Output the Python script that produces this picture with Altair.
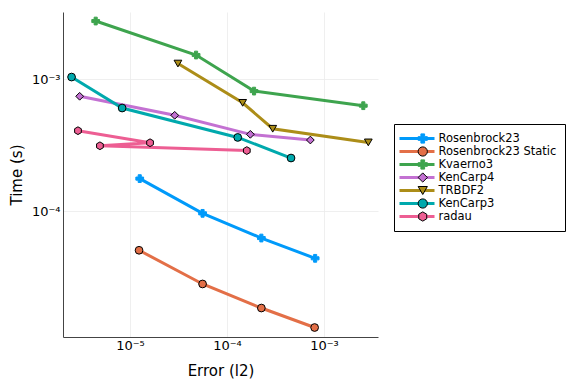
import altair as alt
import pandas as pd

series_names = ["Rosenbrock23", "Rosenbrock23 Static", "Kvaerno3", "KenCarp4", "TRBDF2", "KenCarp3", "radau"]
colors = ["#009AFA", "#E36F47", "#3EA44E", "#C371D2", "#AC8D18", "#00A9AD", "#ED5E93"]
marker_strokes = ["#009AFA", "#000000", "#3EA44E", "#000000", "#000000", "#000000", "#000000"]
hexagon = "M-0.866,-0.5L0,-1L0.866,-0.5L0.866,0.5L0,1L-0.866,0.5Z"
shapes = ["cross", "circle", "cross", "diamond", "triangle-down", "circle", hexagon]

err_rosenbrock23 = [1.26e-5, 5.6e-5, 2.26e-4, 8.1e-4]
time_rosenbrock23 = [1.76e-4, 9.6e-5, 6.24e-5, 4.38e-5]
err_rosenbrock23_static = [1.24e-5, 5.6e-5, 2.26e-4, 8.0e-4]
time_rosenbrock23_static = [5.04e-5, 2.8e-5, 1.84e-5, 1.31e-5]
err_kvaerno3 = [4.43e-6, 4.8e-5, 1.9e-4, 2.54e-3]
time_kvaerno3 = [2.75e-3, 1.52e-3, 8.1e-4, 6.28e-4]
err_kencarp4 = [3.03e-6, 2.89e-5, 1.74e-4, 7.23e-4]
time_kencarp4 = [7.4e-4, 5.31e-4, 3.81e-4, 3.45e-4]
err_trbdf2 = [3.12e-5, 1.45e-4, 2.96e-4, 2.86e-3]
time_trbdf2 = [1.31e-3, 6.6e-4, 4.2e-4, 3.31e-4]
err_kencarp3 = [2.5e-6, 8.3e-6, 1.29e-4, 4.57e-4]
time_kencarp3 = [1.035e-3, 6.03e-4, 3.61e-4, 2.52e-4]
err_radau = [2.91e-6, 1.61e-5, 4.9e-6, 1.6e-4]
time_radau = [4.06e-4, 3.29e-4, 3.12e-4, 2.87e-4]

all_err = [err_rosenbrock23, err_rosenbrock23_static, err_kvaerno3, err_kencarp4,
           err_trbdf2, err_kencarp3, err_radau]
all_time = [time_rosenbrock23, time_rosenbrock23_static, time_kvaerno3, time_kencarp4,
            time_trbdf2, time_kencarp3, time_radau]

line_names = [n + " " for n in series_names]

rows = []
for name, lname, errs, times in zip(series_names, line_names, all_err, all_time):
    for i, (e, t) in enumerate(zip(errs, times)):
        rows.append({"series": name, "line_series": lname, "idx": i, "err": e, "time": t})
df = pd.DataFrame(rows)

FONT = "DejaVu Sans"
label_expr = "datum.value < 5e-5 ? '10⁻⁵' : (datum.value < 5e-4 ? '10⁻⁴' : '10⁻³')"

x = alt.X("err:Q", scale=alt.Scale(type="log", domain=[2.04e-6, 3.6e-3], nice=False),
          axis=alt.Axis(title="Error (l2)", values=[1e-5, 1e-4, 1e-3], labelExpr=label_expr,
                        grid=True, gridColor="#ebebeb", gridWidth=0.8, ticks=False,
                        domainColor="#444444", domainWidth=1, labelFont=FONT, labelFontSize=13,
                        labelColor="#000000", titleFont=FONT, titleFontSize=15,
                        titleFontWeight="normal", titleColor="#000000", labelPadding=2,
                        titlePadding=11))
y = alt.Y("time:Q", scale=alt.Scale(type="log", domain=[1.11e-5, 3.22e-3], nice=False),
          axis=alt.Axis(title="Time (s)", values=[1e-4, 1e-3], labelExpr=label_expr,
                        grid=True, gridColor="#ebebeb", gridWidth=0.8, ticks=False,
                        domainColor="#444444", domainWidth=1, labelFont=FONT, labelFontSize=13,
                        labelColor="#000000", titleFont=FONT, titleFontSize=15,
                        titleFontWeight="normal", titleColor="#000000", labelPadding=3,
                        titlePadding=7))

lines = alt.Chart(df).mark_line(strokeWidth=3, clip=True).encode(
    x=x, y=y,
    order="idx:Q",
    color=alt.Color("line_series:N", scale=alt.Scale(domain=line_names, range=colors),
                    legend=alt.Legend(title=None, orient="none", legendX=335, legendY=120,
                                      symbolType="stroke", symbolSize=1225, symbolStrokeWidth=3,
                                      labelExpr="''", labelFontSize=11.5, clipHeight=13,
                                      rowPadding=0, padding=0, symbolOffset=0)),
)

pt_legend = alt.Legend(title=None, orient="none", legendX=331, legendY=112,
                       labelFont=FONT, labelFontSize=11.5, labelColor="#000000",
                       labelExpr="datum.label + '\u00a0\u00a0'",
                       clipHeight=13, rowPadding=0, padding=8,
                       symbolOffset=15, labelOffset=10, symbolSize=85,
                       symbolStrokeWidth=1, strokeColor="#000000")

points = alt.Chart(df).mark_point(filled=True, opacity=1, strokeWidth=1, size=60, clip=True).encode(
    x=x, y=y,
    fill=alt.Fill("series:N", scale=alt.Scale(domain=series_names, range=colors), legend=pt_legend),
    stroke=alt.Stroke("series:N", scale=alt.Scale(domain=series_names, range=marker_strokes), legend=pt_legend),
    shape=alt.Shape("series:N", scale=alt.Scale(domain=series_names, range=shapes), legend=pt_legend),
)

chart = alt.layer(lines, points).properties(
    width=315, height=325,
    autosize=alt.AutoSizeParams(type="none"),
    padding={"left": 55, "top": 4, "right": 190, "bottom": 46},
).configure_view(stroke=None)

chart.save("out.html", embed_options={"renderer": "svg", "actions": False})
